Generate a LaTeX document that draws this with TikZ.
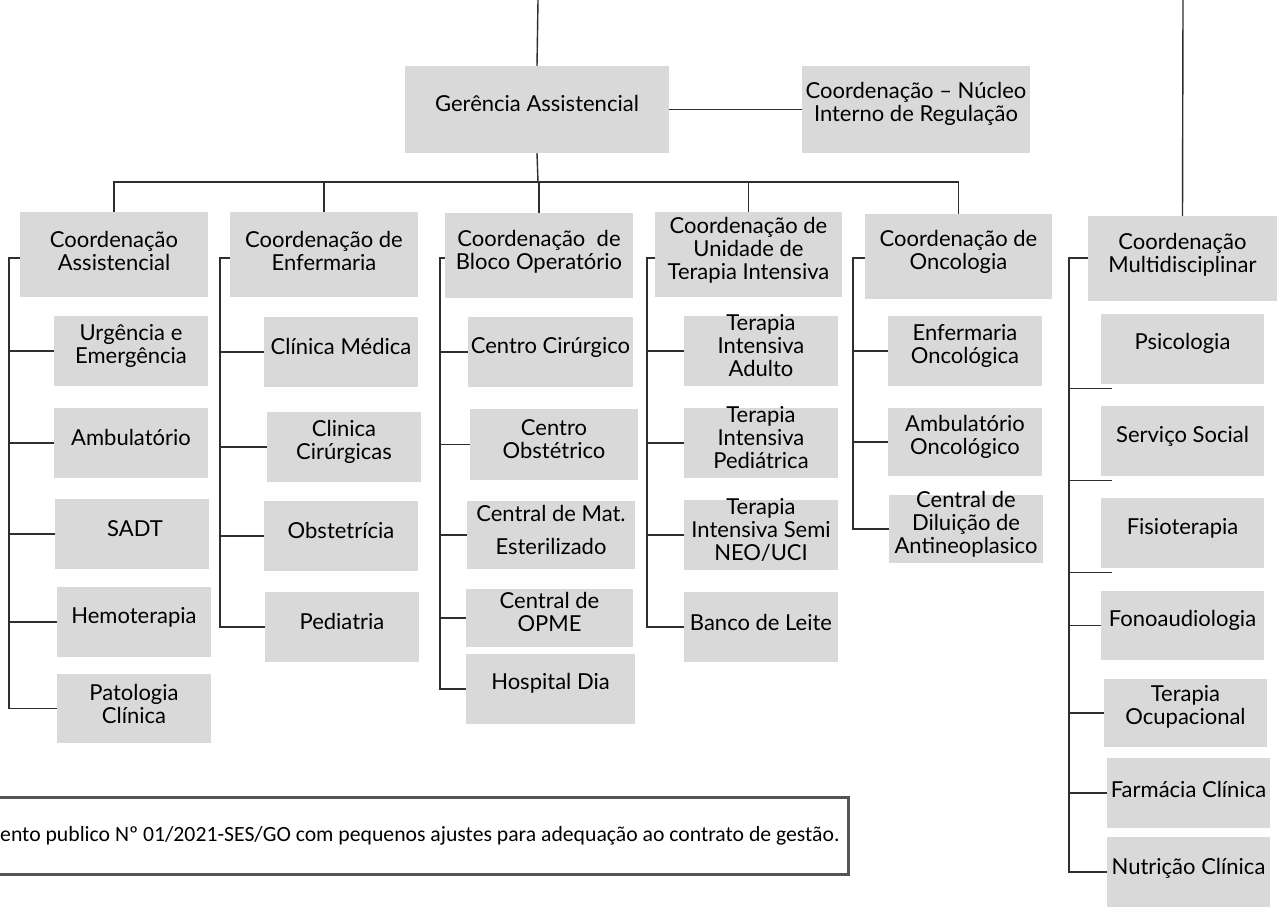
\documentclass[tikz,border=0pt]{standalone}
\usepackage{fontspec}
\setmainfont{Lato}
\newfontfamily\calib{Carlito}
\usetikzlibrary{calc}
\definecolor{boxgray}{HTML}{D9D9D9}
\definecolor{linegray}{HTML}{2E2E2E}
\definecolor{framegray}{HTML}{555555}
% #1 text shift, #2 name, #3 cx, #4 cy, #5 w, #6 h, #7 text
\newcommand\ubox[7][5.5]{%
  \node[box, minimum width=#5pt, minimum height=#6pt] (#2) at (#3,#4) {};
  \node[lbl] (#2t) at ([yshift=#1pt]#2.center) {#7};}
\begin{document}
\begin{tikzpicture}[x=1pt,y=-1pt,
  box/.style={fill=boxgray, draw=none, inner sep=0pt},
  lbl/.style={align=center, inner sep=0pt, font=\fontsize{22}{23}\selectfont},
  conn/.style={draw=linegray, line width=1.4pt}]
\useasboundingbox (0,0) rectangle (1281,915);
\fill[white] (0,0) rectangle (1281,915);

% level 1
\ubox[6]{ga}{537}{109.5}{264}{87}{Gerência Assistencial}
\ubox[6]{nir}{916}{109.5}{228}{87}{Coordenação – Núcleo\\Interno de Regulação}

% level 2
\ubox[3.5]{ca}{114}{254.5}{188}{85}{Coordenação\\Assistencial}
\ubox[3.5]{ce}{324}{254.5}{188}{85}{Coordenação de\\Enfermaria}
\ubox[3.5]{cb}{539}{255.5}{188}{85}{Coordenação\ \ de\\Bloco Operatório}
\ubox[4.5]{cu}{748.5}{254.5}{187}{85}{Coordenação de\\Unidade de\\Terapia Intensiva}
\ubox[5]{co}{958.5}{256.5}{187}{85}{Coordenação de\\Oncologia}
\ubox[4]{cm}{1182.5}{258.5}{189}{85}{Coordenação\\Multidisciplinar}

% Assistencial
\ubox{ue}{131}{351}{154}{70}{Urgência e\\Emergência}
\ubox[6]{am}{131}{443}{154}{70}{Ambulatório}
\ubox[5]{sa}{132}{534}{154}{70}{\hspace*{6pt}SADT}
\ubox[5]{he}{134}{622}{154}{70}{Hemoterapia}
\ubox[4.5]{pc}{134}{708.5}{154}{69}{Patologia\\Clínica}

% Enfermaria
\ubox[6]{cmed}{341}{352}{154}{70}{Clínica Médica}
\ubox{ccir}{344}{447}{154}{70}{Clinica\\Cirúrgicas}
\ubox[6]{obs}{341}{536}{154}{70}{Obstetrícia}
\ubox[6]{ped}{342}{627}{154}{70}{Pediatria}

% Bloco
\ubox[5]{ccg}{550.5}{352}{165}{70}{Centro Cirúrgico}
\ubox{cob}{554}{444.5}{168}{71}{Centro\\Obstétrico}
\ubox[5.5]{cme}{551}{535}{168}{68}{Central de Mat.\\[10pt]Esterilizado}
\ubox[6.5]{opme}{549.5}{618}{167}{58}{Central de\\OPME}
\ubox[6]{hd}{550.5}{689}{169}{70}{Hospital Dia}

% UTI
\ubox{tia}{761}{351}{154}{70}{Terapia\\Intensiva\\Adulto}
\ubox[5]{tip}{761}{443}{154}{70}{Terapia\\Intensiva\\Pediátrica}
\ubox[5]{tis}{761}{535}{154}{70}{Terapia\\Intensiva Semi\\NEO/UCI}
\ubox[5]{bl}{761}{627}{154}{70}{Banco de Leite}

% Oncologia
\ubox{eo}{965}{351}{154}{70}{Enfermaria\\Oncológica}
\ubox[5]{ao}{965}{442}{154}{68}{Ambulatório\\Oncológico}
\ubox[5]{cd}{966}{529}{154}{68}{Central de\\Diluição de\\Antineoplasico}

% Multidisciplinar
\ubox[6]{ps}{1182.5}{349}{163}{70}{Psicologia}
\ubox[5]{ss}{1182.5}{441}{163}{70}{Serviço Social}
\ubox[5]{fi}{1182.5}{533}{163}{70}{Fisioterapia}
\ubox[5.5]{fo}{1182.5}{625.5}{163}{69}{Fonoaudiologia}
\ubox[6.5]{to}{1185.5}{713}{163}{68}{Terapia\\Ocupacional}
\ubox[4]{fc}{1188.5}{793}{163}{70}{Farmácia Clínica}
\ubox[4]{nc}{1188.5}{872}{163}{70}{Nutrição Clínica}

% top connectors
\coordinate (topA) at (538,0);
\coordinate (topB) at (1183,0);
\draw[conn] (topA) -- (ga.north);
\draw[conn] (topB) -- (cm.north);
\draw[conn] (ga.east) -- (ga.east -| nir.west);
\coordinate (bus) at (538,182);
\draw[conn] (ga.south) -- (bus);
\foreach \n in {ca,ce,cb,cu,co}{\draw[conn] (\n.north) |- (bus);}

% brackets
\coordinate (caL) at (9,258);
\draw[conn] (caL -| ca.west) -| (caL |- pc.west) -- (pc.west);
\foreach \n in {ue,am,sa,he}{\draw[conn] (\n.west) -- (\n.west -| caL);}

\coordinate (ceL) at (220,258);
\draw[conn] (ceL -| ce.west) -| (ceL |- ped.west) -- (ped.west);
\foreach \n in {cmed,ccir,obs}{\draw[conn] (\n.west) -- (\n.west -| ceL);}

\coordinate (cbL) at (440,258);
\draw[conn] (cbL -| cb.west) -| (cbL |- hd.west) -- (hd.west);
\foreach \n in {ccg,cob,cme,opme}{\draw[conn] (\n.west) -- (\n.west -| cbL);}

\coordinate (cuL) at (647,258);
\draw[conn] (cuL -| cu.west) -| (cuL |- bl.west) -- (bl.west);
\foreach \n in {tia,tip,tis}{\draw[conn] (\n.west) -- (\n.west -| cuL);}

\coordinate (coL) at (853,258);
\draw[conn] (coL -| co.west) -| (coL |- cd.west) -- (cd.west);
\foreach \n in {eo,ao}{\draw[conn] (\n.west) -- (\n.west -| coL);}

\coordinate (cmL) at (1069,258);
\draw[conn] (cmL -| cm.west) -| (cmL |- nc.west) -- (nc.west);
\foreach \n in {ps,ss,fi}{\draw[conn] ($(\n.south west)+(11,4)$) coordinate (\n c) -- (\n c -| cmL);}
\foreach \n in {fo,to,fc}{\draw[conn] (\n.west) -- (\n.west -| cmL);}

% footer note
\draw[line width=3pt, draw=framegray] (-10,797) rectangle (848,874);
\node[anchor=west, inner sep=0pt, font=\calib\fontsize{21.7}{24}\selectfont] (nota) at (0,836)
  {ento publico Nº 01/2021-SES/GO com pequenos ajustes para adequação ao contrato de gestão.};
\end{tikzpicture}
\end{document}
